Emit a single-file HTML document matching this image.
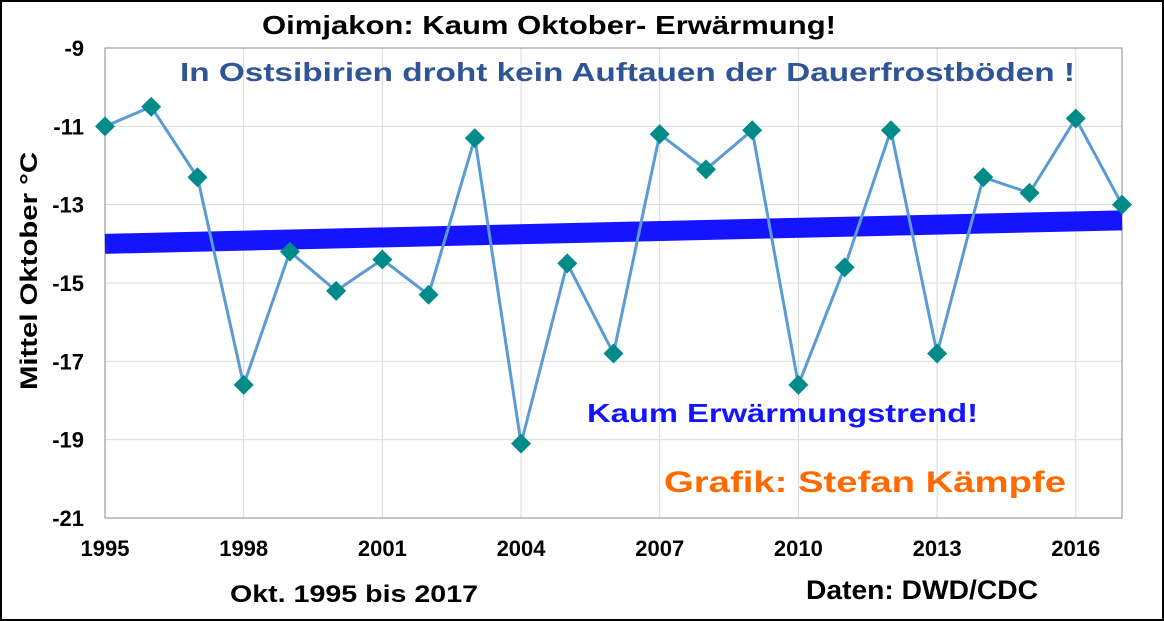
<!DOCTYPE html>
<html><head><meta charset="utf-8"><style>
body{margin:0;background:#fff;}
svg{display:block;font-family:"Liberation Sans",Arial,sans-serif;font-weight:bold;}
</style></head><body>
<svg id="chart" width="1164" height="621">
<rect x="1" y="1" width="1162" height="619" fill="#fff" stroke="#000" stroke-width="2"/>
<g id="grid"></g>
<rect x="105" y="48" width="1017" height="470" fill="none" stroke="#888" stroke-width="1"/>
<g id="trend"></g><g id="series"></g><g id="ticks"></g>
<text x="262" y="34" font-size="26" textLength="574" lengthAdjust="spacingAndGlyphs" fill="#000">Oimjakon: Kaum Oktober- Erwärmung!</text>
<text x="180" y="81" font-size="26" textLength="895" lengthAdjust="spacingAndGlyphs" fill="#2f5597">In Ostsibirien droht kein Auftauen der Dauerfrostböden !</text>
<text x="587" y="422" font-size="26" textLength="391" lengthAdjust="spacingAndGlyphs" fill="#1414ff">Kaum Erwärmungstrend!</text>
<text x="664" y="492" font-size="30" textLength="402" lengthAdjust="spacingAndGlyphs" fill="#ff6a00">Grafik: Stefan Kämpfe</text>
<text x="230" y="602" font-size="24" textLength="248" lengthAdjust="spacingAndGlyphs" fill="#000">Okt. 1995 bis 2017</text>
<text x="806" y="599" font-size="27" textLength="232" lengthAdjust="spacingAndGlyphs" fill="#000">Daten: DWD/CDC</text>
<text transform="translate(37,390) rotate(-90)" font-size="24" textLength="238" lengthAdjust="spacingAndGlyphs" fill="#000">Mittel Oktober °C</text>
</svg>
<script>
const years=[1995,1996,1997,1998,1999,2000,2001,2002,2003,2004,2005,2006,2007,2008,2009,2010,2011,2012,2013,2014,2015,2016,2017];
const temps=[-11.0,-10.5,-12.3,-17.6,-14.2,-15.2,-14.4,-15.3,-11.3,-19.1,-14.5,-16.8,-11.2,-12.1,-11.1,-17.6,-14.6,-11.1,-16.8,-12.3,-12.7,-10.8,-13.0];
const trendStart=[1995,-14.0];
const trendEnd=[2017,-13.4];
const xTicks=[1995,1998,2001,2004,2007,2010,2013,2016];
const yTicks=[-9,-11,-13,-15,-17,-19,-21];
const NS="http://www.w3.org/2000/svg";
const X=v=>105+(v-1995)*(1017/22);
const Y=v=>48+(-9-v)*(470/12);
function mk(t,a,p){const e=document.createElementNS(NS,t);for(const k in a)e.setAttribute(k,a[k]);document.getElementById(p).appendChild(e);return e;}
yTicks.forEach(v=>{
 const l=mk('line',{x1:105,x2:1122,y1:Y(v),y2:Y(v),stroke:'#d9d9d9','stroke-width':1},'grid');
 
 
 const t=mk('text',{x:84,y:Y(v)+8,'font-size':22,'text-anchor':'end',fill:'#000'},'ticks');t.textContent=v;
 
 
});
xTicks.forEach(v=>{
 const l=mk('line',{x1:X(v),x2:X(v),y1:48,y2:518,stroke:'#d9d9d9','stroke-width':1},'grid');
 
 
 const t=mk('text',{x:X(v),y:556,'font-size':22,'text-anchor':'middle',fill:'#000'},'ticks');t.textContent=v;
 
 
});
const tr=mk('line',{x1:X(trendStart[0]),y1:Y(trendStart[1]),x2:X(trendEnd[0]),y2:Y(trendEnd[1]),stroke:'#1414ff','stroke-width':20},'trend');


const pl=mk('polyline',{points:years.map((y,i)=>X(y)+','+Y(temps[i])).join(' '),fill:'none',stroke:'#5b9bd5','stroke-width':3},'series');


years.forEach((y,i)=>{
 const cx=X(y),cy=Y(temps[i]);
 const m=mk('polygon',{points:`${cx},${cy-10} ${cx+10},${cy} ${cx},${cy+10} ${cx-10},${cy}`,fill:'#008b8b'},'series');
 
 
});
</script>
</body></html>
